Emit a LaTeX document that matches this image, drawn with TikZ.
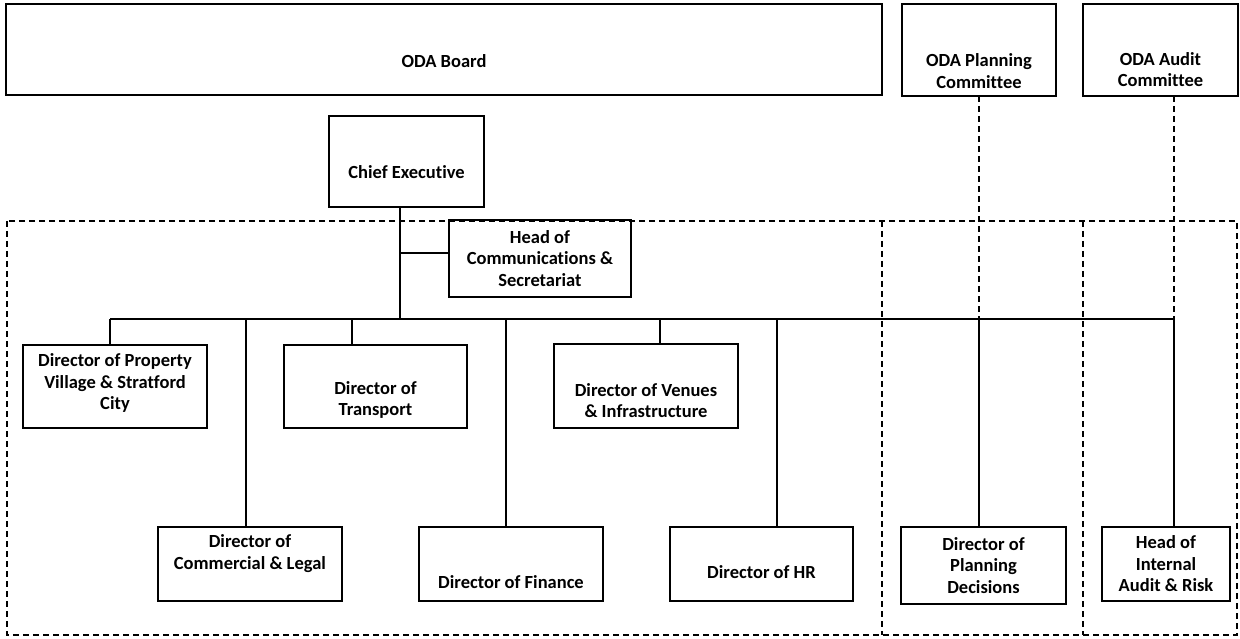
\documentclass[tikz,border=0pt]{standalone}
\usepackage{fontspec}
\setmainfont{Carlito}[Ligatures={NoCommon}]
\usepackage{tikz}
\usetikzlibrary{positioning}
\usetikzlibrary{math}

\tikzset{
  box/.style={draw=black, line width=1.3pt, inner sep=0pt, outer sep=0pt},
  txt/.style={align=center, inner sep=0pt, font=\fontsize{18.5}{21.5}\selectfont\bfseries},
  link/.style={black, line width=1.3pt},
  grp/.style={black, line width=1.3pt, dash pattern=on 6pt off 4pt},
}

\begin{document}
\begin{tikzpicture}[x=1pt,y=-1pt]
      \tikzmath{
        \busY = 319;
        \trunkX = 400;
      }
      \useasboundingbox (0,0) rectangle (1240,639);

      % dashed groups
      \draw[grp] (7,221) rectangle (1237,635);
      \draw[grp] (882,221) -- (882,635);
      \draw[grp] (1083,221) -- (1083,635);

      % top row
      \node[box, minimum width=876pt, minimum height=91pt,
        label={[txt,yshift=-11.5pt]center:ODA Board}] (board) at (444,49.5) {};
      \node[box, minimum width=154pt, minimum height=92pt,
        label={[txt,yshift=-21pt]center:ODA Planning\\Committee}] (plan) at (979,50) {};
      \node[box, minimum width=155pt, minimum height=92pt,
        label={[txt,yshift=-19.5pt]center:ODA Audit\\Committee}] (audit) at (1160.5,50) {};

      \node[box, minimum width=155pt, minimum height=91pt,
        label={[txt,yshift=-10.5pt]center:Chief Executive}] (ceo) at (406.5,161.5) {};
      \node[box, minimum width=182pt, minimum height=77pt,
        label={[txt]center:Head of\\Communications \&\\Secretariat}] (comms) at (540,258.5) {};

      % directors, upper row
      \node[box, minimum width=184pt, minimum height=83pt,
        label={[txt,yshift=3.5pt]center:Director of Property\\Village \& Stratford\\City}] (property) at (115,386.5) {};
      \node[box, minimum width=183pt, minimum height=83pt,
        label={[txt,yshift=-13.5pt]center:Director of\\Transport}] (transport) at (375.5,386.5) {};
      \node[box, minimum width=184pt, minimum height=84pt,
        label={[txt,yshift=-14.5pt]center:Director of Venues\\\& Infrastructure}] (venues) at (646,386) {};

      % directors, lower row
      \node[box, minimum width=184pt, minimum height=74pt,
        label={[txt,yshift=10.5pt]center:Director of\\Commercial \& Legal}] (commercial) at (250,564) {};
      \node[box, minimum width=184pt, minimum height=74pt,
        label={[txt,yshift=-18pt]center:Director of Finance}] (finance) at (511,564) {};
      \node[box, minimum width=183pt, minimum height=74pt,
        label={[txt,yshift=-8pt]center:Director of HR}] (hr) at (761.5,564) {};
      \node[box, minimum width=165pt, minimum height=77pt,
        label={[txt]center:Director of\\Planning\\Decisions}] (plandec) at (983.5,565.5) {};
      \node[box, minimum width=128pt, minimum height=74pt,
        label={[txt]center:Head of\\Internal\\Audit \& Risk}] (intaudit) at (1166,564) {};

      % trunk and bus
      \coordinate (trunk) at (\trunkX,\busY);
      \coordinate (tap) at (\trunkX,253);
      \coordinate (busL) at (110,\busY);
      \coordinate (busR) at (1174,\busY);

      \draw[link] (ceo.south -| trunk) -- (trunk);
      \draw[link] (tap) -- (comms.west |- tap);
      \draw[link] (busL) -- (busR);

      \foreach \x/\n in {110/property, 246/commercial, 352/transport,
                         506/finance, 660/venues, 777/hr}
        \draw[link] (\x,\busY) -- (\x,\busY |- \n.north);

      % committees
      \draw[grp] (plan.south) -- (plan.south |- busL);
      \draw[link] (plan.south |- busL) -- (plan.south |- plandec.north);
      \draw[grp] (audit.south -| busR) -- (busR);
      \draw[link] (busR) -- (busR |- intaudit.north);
\end{tikzpicture}
\end{document}
